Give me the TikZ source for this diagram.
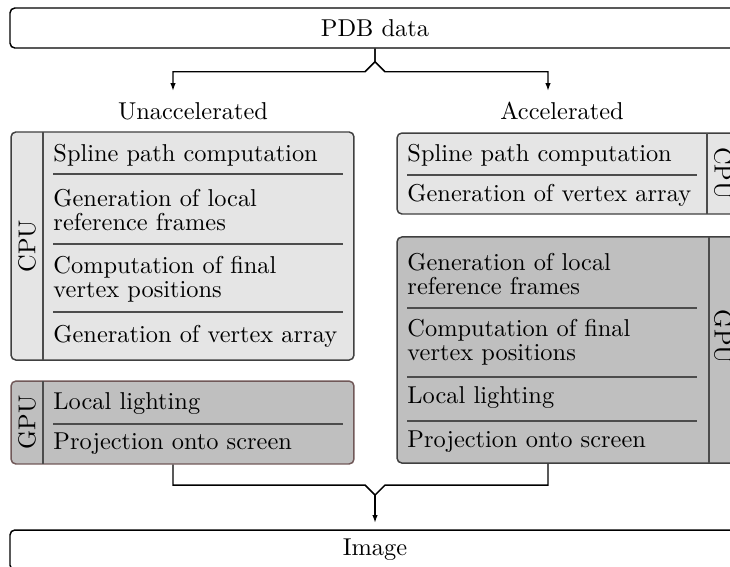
\documentclass[tikz,border=0pt]{standalone}
\usetikzlibrary{arrows.meta}
\definecolor{gpuedge}{RGB}{112,88,88}
\tikzset{
  stage/.style={draw=black!75, line width=0.6pt, rounded corners=2pt,
    inner sep=0pt, minimum width=140.6pt},
  cpubox/.style={stage, fill=black!10},
  gpubox/.style={stage, fill=black!25},
  endbox/.style={draw, line width=0.6pt, rounded corners=2pt,
    minimum width=299.3pt, minimum height=16.4pt},
  task/.style={anchor=west, inner sep=0pt, align=left,
    font=\fontsize{10}{10}\selectfont},
  unit/.style={inner sep=0pt},
  sep/.style={draw=black!70, line width=0.5pt},
  flow/.style={line width=0.6pt},
  tip/.style={-{Latex[length=3.2pt,width=2.2pt]}}
}
\begin{document}
\begin{tikzpicture}[x=0.41pt,y=-0.41pt]
  \useasboundingbox (0,0) rectangle (730,566);
  \clip (0,0) rectangle (730,566);
  \node[endbox] (pdb) at (375,28) {PDB data};
  \node[endbox] (img) at (375,550) {Image};
  \node (lblU) at (193,111) {Unaccelerated};
  \node (lblA) at (562,111) {Accelerated};
  \coordinate (inU) at (173,91);
  \coordinate (inA) at (548,91);

  % unaccelerated path
  \node[cpubox, minimum height=93.5pt] (cpuL) at (182.5,246) {};
  \node[gpubox, draw=gpuedge, minimum height=34pt] (gpuL) at (182.5,422.5) {};
  \draw[sep] (43,132) -- (43,360);
  \draw[sep] (43,381) -- (43,464);
  \node[unit, rotate=90] (cpuLtag) at (27,246) {CPU};
  \node[unit, rotate=90] (gpuLtag) at (27,422.5) {GPU};
  \node[task] (splineL) at (53,155) {Spline path computation};
  \draw[sep] (53,174) -- (343,174);
  \node[task] (framesL) at (53,210) {Generation of local\\reference frames};
  \draw[sep] (53,244) -- (343,244);
  \node[task] (vertposL) at (53,279) {Computation of final\\vertex positions};
  \draw[sep] (53,312) -- (343,312);
  \node[task] (arrayL) at (53,336) {Generation of vertex array};
  \node[task] (lightL) at (53,404) {Local lighting};
  \draw[sep] (53,424) -- (343,424);
  \node[task] (projL) at (53,444) {Projection onto screen};

  % accelerated path
  \node[cpubox, minimum height=33.2pt] (cpuR) at (568.5,173.5) {};
  \node[gpubox, minimum height=92.7pt] (gpuR) at (568.5,350) {};
  \draw[sep] (707,133) -- (707,214);
  \draw[sep] (709,237) -- (709,463);
  \node[unit, rotate=-90] (cpuRtag) at (723,173.5) {CPU};
  \node[unit, rotate=-90] (gpuRtag) at (723,337) {GPU};
  \node[task] (splineR) at (407,155) {Spline path computation};
  \draw[sep] (407,175) -- (697,175);
  \node[task] (arrayR) at (407,195) {Generation of vertex array};
  \node[task] (framesR) at (407,274) {Generation of local\\reference frames};
  \draw[sep] (407,308) -- (697,308);
  \node[task] (vertposR) at (407,342) {Computation of final\\vertex positions};
  \draw[sep] (407,377) -- (697,377);
  \node[task] (lightR) at (407,398) {Local lighting};
  \draw[sep] (407,421) -- (697,421);
  \node[task] (projR) at (407,442) {Projection onto screen};

  % connectors
  \draw[flow, tip] (pdb.south) -- ++(0,13) -- ++(-10,10) -| (inU);
  \draw[flow, tip] (pdb.south) -- ++(0,13) -- ++(10,10) -| (inA);
  \coordinate (outU) at (173,485);
  \coordinate (outA) at (548,485);
  \coordinate (merge) at (375,495);
  \draw[flow] (gpuL.south -| outU) -- (outU) -- (365,485) -- (merge);
  \draw[flow] (gpuR.south -| outA) -- (outA) -- (385,485) -- (merge);
  \draw[flow, tip, shorten >=2.6pt] (merge) -- (img.north);
\end{tikzpicture}
\end{document}
